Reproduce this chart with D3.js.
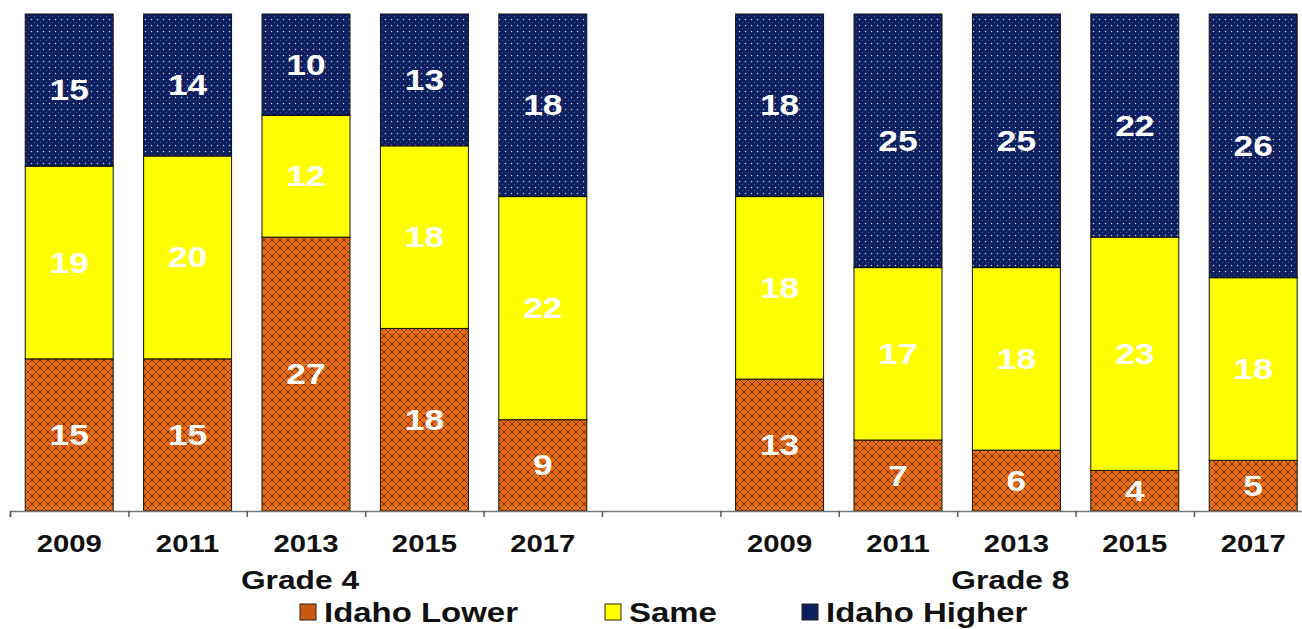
<!DOCTYPE html>
<html>
<head>
<meta charset="utf-8">
<script src="https://cdn.jsdelivr.net/npm/d3@7"></script>
<style>
  body { margin: 0; background: #fff; }
  svg { display: block; font-family: "Liberation Sans", Arial, sans-serif; }
</style>
</head>
<body>
<div id="chart"></div>
<script>
// Chart values
const years = ['2009', '2011', '2013', '2015', '2017'];
const grades = ['Grade 4', 'Grade 8'];
const seriesNames = ['Idaho Lower', 'Same', 'Idaho Higher'];

const grade4Lower = [15, 15, 27, 18, 9];
const grade4Same = [19, 20, 12, 18, 22];
const grade4Higher = [15, 14, 10, 13, 18];

const grade8Lower = [13, 7, 6, 4, 5];
const grade8Same = [18, 17, 18, 23, 18];
const grade8Higher = [18, 25, 25, 22, 26];

const width = 1302, height = 629;
const stretch = 1.22; // text in the reference is drawn wide

// Build rows: five grade 4 bars, an empty slot, five grade 8 bars
const rows = [];
years.forEach((y, i) => rows.push({ key: 'g4-' + y, year: y, 'Idaho Lower': grade4Lower[i], 'Same': grade4Same[i], 'Idaho Higher': grade4Higher[i] }));
const gapKey = 'gap';
years.forEach((y, i) => rows.push({ key: 'g8-' + y, year: y, 'Idaho Lower': grade8Lower[i], 'Same': grade8Same[i], 'Idaho Higher': grade8Higher[i] }));
const slotKeys = rows.slice(0, 5).map(d => d.key).concat([gapKey], rows.slice(5).map(d => d.key));

const svg = d3.select('#chart').append('svg')
    .attr('width', width)
    .attr('height', height);

const defs = svg.append('defs');

// navy with white dots
const dots = defs.append('pattern')
    .attr('id', 'pat-higher')
    .attr('patternUnits', 'userSpaceOnUse')
    .attr('width', 6).attr('height', 6);
dots.append('rect').attr('width', 6).attr('height', 6).attr('fill', '#0c1f5f');
dots.append('circle').attr('cx', 1.5).attr('cy', 1.5).attr('r', 0.75).attr('fill', '#c8d0ea');
dots.append('circle').attr('cx', 4.5).attr('cy', 4.5).attr('r', 0.5).attr('fill', '#5a6aa8');

// orange crosshatch
const hatch = defs.append('pattern')
    .attr('id', 'pat-lower')
    .attr('patternUnits', 'userSpaceOnUse')
    .attr('width', 8).attr('height', 8);
hatch.append('rect').attr('width', 8).attr('height', 8).attr('fill', '#e8680e');
hatch.append('circle').attr('cx', 4).attr('cy', 4).attr('r', 2.2).attr('fill', '#f88a2a');
hatch.append('path')
    .attr('d', 'M0,0 L8,8 M8,0 L0,8 M-1,7 L1,9 M7,-1 L9,1 M-1,1 L1,-1 M7,9 L9,7')
    .attr('stroke', '#6a2c08')
    .attr('stroke-width', 0.9);

const fills = {
    'Idaho Lower': 'url(#pat-lower)',
    'Same': '#ffff00',
    'Idaho Higher': 'url(#pat-higher)'
};
const legendFills = { 'Idaho Lower': '#c85a10', 'Same': '#ffff00', 'Idaho Higher': '#0c1f5f' };

// Scales
const x0 = 10, x1 = 10 + 11 * 118.4;
const pad = 0.257;
const x = d3.scaleBand()
    .domain(slotKeys)
    .range([x0, x1])
    .paddingInner(pad)
    .paddingOuter(pad / 2);

const stack = d3.stack().keys(seriesNames);
const stacked = stack(rows);
const maxTotal = d3.max(rows, d => seriesNames.reduce((s, k) => s + d[k], 0));

const y = d3.scaleLinear()
    .domain([0, maxTotal])
    .range([511, 14]);

// Bars
const layers = svg.append('g').selectAll('g')
    .data(stacked)
    .join('g')
    .attr('fill', d => fills[d.key]);

layers.selectAll('rect')
    .data(d => d)
    .join('rect')
    .attr('x', d => x(d.data.key))
    .attr('y', d => y(d[1]))
    .attr('width', x.bandwidth())
    .attr('height', d => y(d[0]) - y(d[1]))
    .attr('stroke', '#111')
    .attr('stroke-width', 1);

// Value labels
layers.selectAll('text')
    .data(d => d)
    .join('text')
    .attr('transform', d => `translate(${x(d.data.key) + x.bandwidth() / 2},${(y(d[0]) + y(d[1])) / 2 + 10}) scale(${stretch},1)`)
    .attr('text-anchor', 'middle')
    .attr('fill', '#fff')
    .attr('font-size', 29)
    .attr('font-weight', 'bold')
    .text(d => d[1] - d[0]);

// Axis with ticks on slot boundaries
const slotScale = d3.scaleLinear().domain([0, slotKeys.length]).range([x0, x1]);
const axis = svg.append('g')
    .attr('transform', 'translate(0,511)')
    .call(d3.axisBottom(slotScale).ticks(slotKeys.length).tickSize(6).tickFormat(''));
axis.select('.domain').attr('stroke', '#777').attr('stroke-width', 1.5);
axis.selectAll('.tick line').attr('stroke', '#555').attr('stroke-width', 1.5);

// Year labels
svg.append('g').selectAll('text')
    .data(rows)
    .join('text')
    .attr('transform', d => `translate(${x(d.key) + x.bandwidth() / 2},552) scale(${stretch},1)`)
    .attr('text-anchor', 'middle')
    .attr('font-size', 24)
    .attr('font-weight', 'bold')
    .attr('fill', '#111')
    .text(d => d.year);

// Grade labels
svg.append('g').selectAll('text')
    .data(grades)
    .join('text')
    .attr('transform', (d, i) => {
        const first = i === 0 ? 0 : 6;
        const cx = (slotScale(first) + slotScale(first + 5)) / 2 - 6;
        return `translate(${cx},589) scale(${stretch},1)`;
    })
    .attr('text-anchor', 'middle')
    .attr('font-size', 26)
    .attr('font-weight', 'bold')
    .attr('fill', '#111')
    .text(d => d);

// Legend
const legendX = [300, 605, 802];
const legend = svg.append('g').selectAll('g')
    .data(seriesNames)
    .join('g')
    .attr('transform', (d, i) => `translate(${legendX[i]},604)`);

legend.append('rect')
    .attr('width', 16)
    .attr('height', 16)
    .attr('fill', d => legendFills[d])
    .attr('stroke', '#222')
    .attr('stroke-width', 1);

legend.append('text')
    .attr('transform', `translate(24,18) scale(${stretch},1)`)
    .attr('font-size', 27)
    .attr('font-weight', 'bold')
    .attr('fill', '#111')
    .text(d => d);
</script>
</body>
</html>
